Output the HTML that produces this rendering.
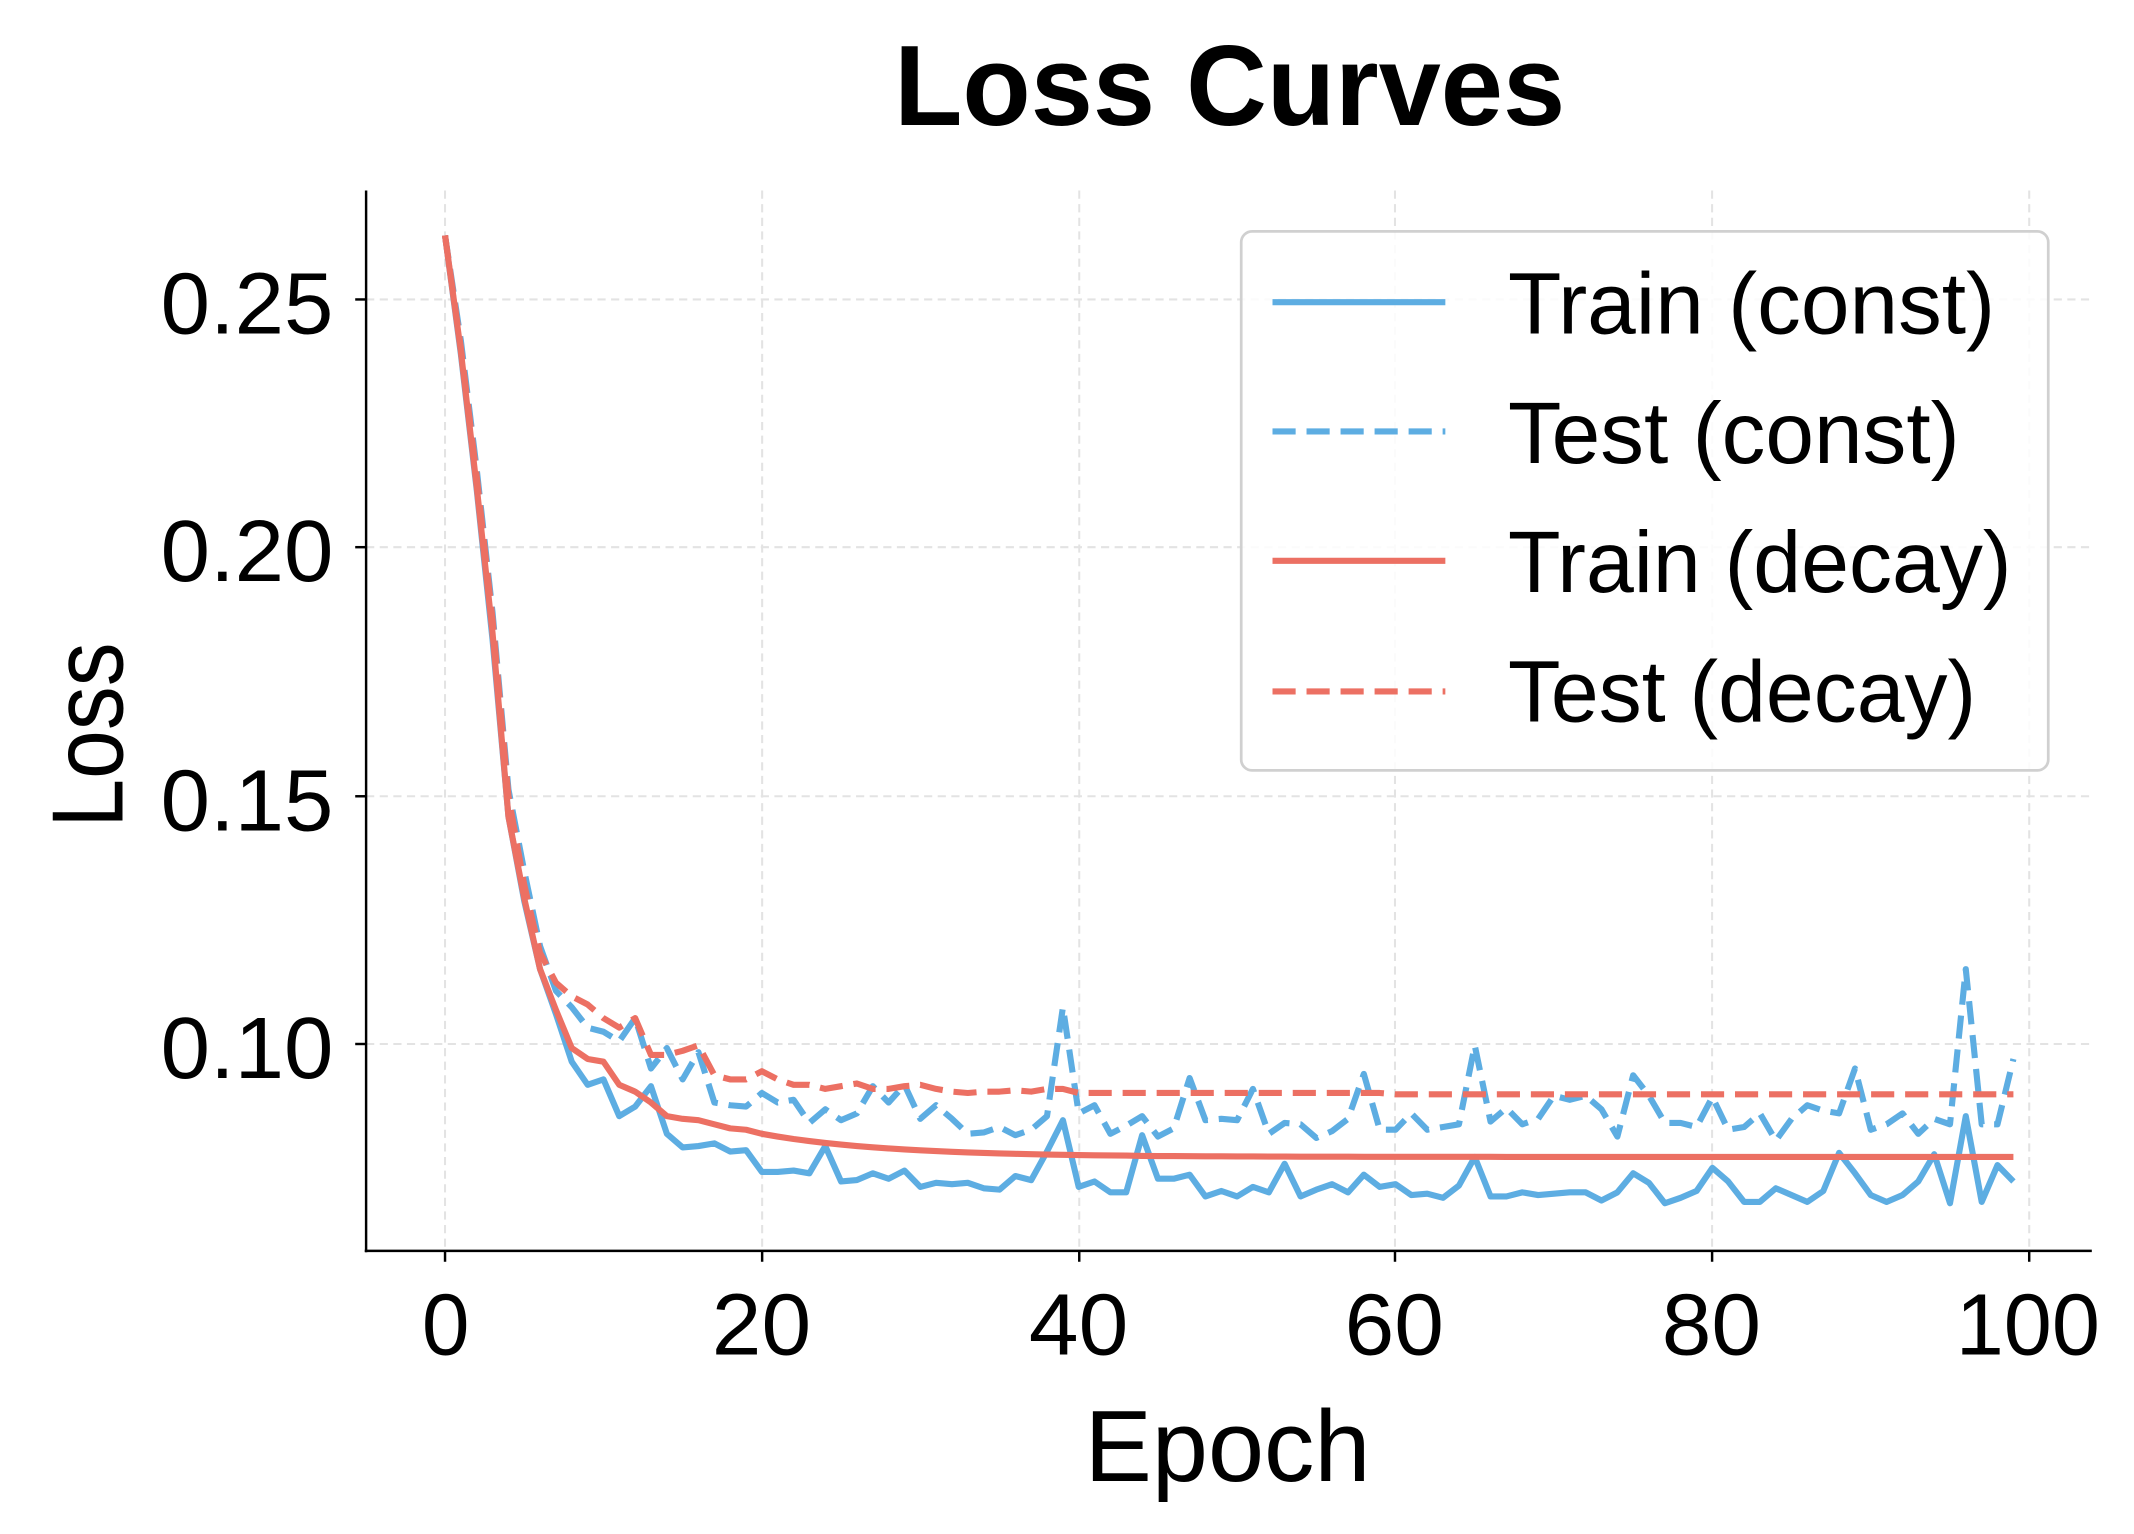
<!DOCTYPE html>
<html><head><meta charset="utf-8"><style>
html,body{margin:0;padding:0;background:#fff;}
svg{display:block;}
text{font-family:"Liberation Sans",sans-serif;fill:#000;}
</style></head><body>
<svg id="s" width="2134" height="1534" viewBox="0 0 1568 1127" preserveAspectRatio="none" xmlns="http://www.w3.org/2000/svg">
<rect width="1568" height="1127" fill="#fff"/>
<g stroke="#e3e3e3" stroke-width="1.5" stroke-dasharray="6,4">
<line x1="327" y1="140" x2="327" y2="919"/><line x1="560" y1="140" x2="560" y2="919"/><line x1="793" y1="140" x2="793" y2="919"/><line x1="1025" y1="140" x2="1025" y2="919"/><line x1="1258" y1="140" x2="1258" y2="919"/><line x1="1491" y1="140" x2="1491" y2="919"/>
<line x1="269" y1="220" x2="1537" y2="220"/><line x1="269" y1="402" x2="1537" y2="402"/><line x1="269" y1="585" x2="1537" y2="585"/><line x1="269" y1="767" x2="1537" y2="767"/>
</g>
<g id="lines" fill="none" stroke-width="4.5" stroke-linejoin="round"></g>
<g stroke="#000" stroke-width="1.8">
<line x1="269" y1="140" x2="269" y2="920"/><line x1="268" y1="919" x2="1537" y2="919"/>
<line x1="327" y1="919" x2="327" y2="927"/><line x1="560" y1="919" x2="560" y2="927"/><line x1="793" y1="919" x2="793" y2="927"/><line x1="1025" y1="919" x2="1025" y2="927"/><line x1="1258" y1="919" x2="1258" y2="927"/><line x1="1491" y1="919" x2="1491" y2="927"/>
<line x1="261" y1="220" x2="269" y2="220"/><line x1="261" y1="402" x2="269" y2="402"/><line x1="261" y1="585" x2="269" y2="585"/><line x1="261" y1="767" x2="269" y2="767"/>
</g>
<g font-size="64" lengthAdjust="spacingAndGlyphs">
<text x="118" y="245" textLength="127" lengthAdjust="spacingAndGlyphs">0.25</text>
<text x="118" y="427" textLength="127" lengthAdjust="spacingAndGlyphs">0.20</text>
<text x="118" y="610" textLength="127" lengthAdjust="spacingAndGlyphs">0.15</text>
<text x="118" y="792" textLength="127" lengthAdjust="spacingAndGlyphs">0.10</text>
</g>
<g font-size="64">
<text x="310" y="995" textLength="35" lengthAdjust="spacingAndGlyphs">0</text>
<text x="523" y="995" textLength="73" lengthAdjust="spacingAndGlyphs">20</text>
<text x="756" y="995" textLength="73" lengthAdjust="spacingAndGlyphs">40</text>
<text x="988" y="995" textLength="73" lengthAdjust="spacingAndGlyphs">60</text>
<text x="1221" y="995" textLength="73" lengthAdjust="spacingAndGlyphs">80</text>
<text x="1437" y="995" textLength="106" lengthAdjust="spacingAndGlyphs">100</text>
</g>
<text x="797" y="1088" font-size="74" textLength="210" lengthAdjust="spacingAndGlyphs">Epoch</text>
<text transform="translate(90,608) rotate(-90)" font-size="74" textLength="136" lengthAdjust="spacingAndGlyphs">Loss</text>
<text x="657" y="92" font-size="84" font-weight="bold" textLength="493" lengthAdjust="spacingAndGlyphs">Loss Curves</text>
<rect x="912" y="170" width="593" height="396" rx="8" fill="#fff" fill-opacity="0.85" stroke="#d0d0d0" stroke-width="2"/>
<g stroke-width="4.5">
<line x1="935" y1="222" x2="1062" y2="222" stroke="#5dade2"/>
<line x1="935" y1="317" x2="1062" y2="317" stroke="#5dade2" stroke-dasharray="17,8"/>
<line x1="935" y1="412" x2="1062" y2="412" stroke="#ec7063"/>
<line x1="935" y1="508" x2="1062" y2="508" stroke="#ec7063" stroke-dasharray="17,8"/>
</g>
<g font-size="64">
<text x="1108" y="245" textLength="358" lengthAdjust="spacingAndGlyphs">Train (const)</text>
<text x="1108" y="340" textLength="332" lengthAdjust="spacingAndGlyphs">Test (const)</text>
<text x="1108" y="435" textLength="370" lengthAdjust="spacingAndGlyphs">Train (decay)</text>
<text x="1108" y="530" textLength="344" lengthAdjust="spacingAndGlyphs">Test (decay)</text>
</g>
</svg>
<script>
var tc=[173,260,360,470,600,662,712,745,780,797,793,820,813,798,833,843,842,840,846,845,861,861,860,862,842,868,867,862,866,860,872,869,870,869,873,874,864,867,846,823,872,868,876,876,834,866,866,863,879,875,879,872,876,855,879,874,870,876,863,872,870,878,877,880,871,850,879,879,876,878,877,876,876,882,876,862,869,884,880,875,858,868,883,883,873,878,883,875,847,862,878,883,878,868,848,884,820,883,856,868];
var sc=[173,250,345,450,580,640,695,728,740,755,758,765,748,785,770,793,773,810,812,813,803,810,808,825,815,823,818,798,810,797,822,812,822,833,832,828,834,830,820,740,818,812,833,827,820,835,829,792,823,822,823,800,833,825,826,836,831,822,789,830,830,818,830,828,826,768,824,814,826,822,805,808,805,815,835,790,805,825,825,828,806,830,828,818,838,822,812,816,818,785,830,826,818,833,822,826,712,826,826,778];
var sd=[173,255,350,455,585,650,700,722,732,738,748,755,748,775,775,772,768,790,793,793,787,793,797,797,800,798,796,800,800,798,797,800,802,803,802,802,801,802,800,800];
for(var i=40;i<100;i++)sd.push(i<60?803:804);
var td=[173,258,358,465,600,660,712,742,770,778,780,797,802,810,820,822,823,826,829,830,833];
for(var i=21;i<100;i++)td.push(850-17*Math.exp(-(i-20)/8));
function pts(a){return a.map(function(y,i){return (327+11.64*i).toFixed(1)+","+y.toFixed(1)}).join(" ");}
var g=document.getElementById("lines"),ns="http://www.w3.org/2000/svg";
[[tc,"#5dade2",""],[sc,"#5dade2","17,8"],[td,"#ec7063",""],[sd,"#ec7063","17,8"]].forEach(function(d){
var p=document.createElementNS(ns,"polyline");p.setAttribute("points",pts(d[0]));p.setAttribute("stroke",d[1]);
if(d[2])p.setAttribute("stroke-dasharray",d[2]);g.appendChild(p);});
</script>
</body></html>
